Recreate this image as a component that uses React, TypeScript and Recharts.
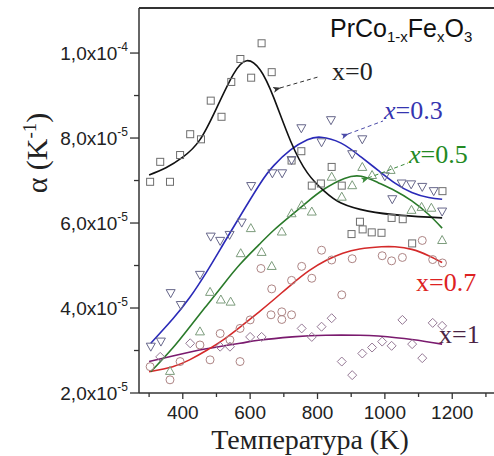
import React from 'react';
import { ComposedChart, Line, Scatter, XAxis, YAxis, ReferenceLine } from 'recharts';

const UNIT = 1e-5;

// [Temperature K, alpha in 1e-5 K^-1]
const x0Points: [number, number][] = [
  [303, 6.97], [333, 7.44], [362, 6.97], [392, 7.6], [422, 8.09], [454, 7.97], [483, 8.88],
  [515, 8.5], [544, 9.32], [571, 9.86], [603, 9.42], [634, 10.23], [664, 9.55], [723, 7.47],
  [752, 7.69], [783, 6.88], [810, 6.93], [842, 7.32], [872, 6.88], [901, 5.74], [926, 6.03],
  [934, 5.85], [961, 5.78], [990, 5.77], [1020, 6.12], [1053, 6.09], [1081, 5.52], [1171, 6.75],
];
const x0Curve: [number, number][] = [
  [300, 7.13], [350, 7.3], [400, 7.55], [450, 7.95], [500, 8.7], [550, 9.5], [590, 9.82],
  [630, 9.6], [670, 8.95], [720, 7.93], [770, 7.18], [820, 6.75], [870, 6.47], [950, 6.28],
  [1050, 6.18], [1170, 6.12],
];

const x03Points: [number, number][] = [
  [305, 3.09], [335, 3.21], [364, 4.35], [394, 4.07], [451, 4.78], [483, 5.68], [511, 5.58],
  [539, 5.72], [575, 6.01], [603, 6.87], [666, 7.17], [695, 7.17], [723, 7.48], [752, 8.23],
  [812, 7.9], [840, 8.42], [903, 7.62], [933, 7.97], [1000, 7.1], [1022, 6.56], [1050, 6.93],
  [1078, 6.91], [1111, 6.85], [1145, 6.75], [1170, 6.27],
];
const x03Curve: [number, number][] = [
  [305, 3.17], [370, 3.74], [420, 4.24], [470, 4.84], [520, 5.5], [570, 6.16], [630, 6.93],
  [670, 7.35], [720, 7.72], [770, 7.96], [810, 8.02], [870, 7.88], [930, 7.55], [980, 7.24],
  [1030, 6.94], [1080, 6.72], [1130, 6.6], [1170, 6.56],
];

const x05Points: [number, number][] = [
  [362, 2.52], [451, 3.45], [481, 4.38], [513, 4.2], [542, 4.15], [572, 5.29], [602, 5.88],
  [634, 5.32], [664, 4.99], [694, 5.8], [723, 6.23], [753, 6.42], [783, 6.27], [842, 7.09],
  [872, 6.62], [903, 6.89], [933, 7.32], [962, 7.13], [1017, 7.25], [1079, 6.31], [1109, 6.38],
  [1138, 6.36], [1170, 5.6],
];
const x05Curve: [number, number][] = [
  [305, 2.5], [370, 3.06], [420, 3.55], [470, 4.05], [520, 4.55], [570, 5.03], [625, 5.48],
  [670, 5.83], [720, 6.17], [770, 6.5], [820, 6.8], [880, 7.05], [930, 7.1], [980, 6.95],
  [1030, 6.76], [1080, 6.52], [1130, 6.2], [1170, 5.88],
];

const x07Points: [number, number][] = [
  [303, 2.62], [362, 2.31], [392, 2.74], [451, 3.13], [481, 2.78], [511, 3.4], [540, 3.25],
  [570, 2.74], [570, 3.52], [600, 3.72], [632, 4.93], [662, 3.84], [664, 4.45], [694, 3.91],
  [694, 3.73], [723, 4.65], [723, 3.84], [753, 4.98], [783, 4.7], [812, 5.36], [842, 5.13],
  [872, 4.31], [903, 5.16], [992, 5.23], [1020, 5.11], [1052, 5.19], [1111, 5.59], [1142, 5.14],
  [1171, 5.06],
];
const x07Curve: [number, number][] = [
  [300, 2.5], [370, 2.62], [420, 2.78], [470, 3.0], [520, 3.25], [570, 3.55], [625, 3.9],
  [675, 4.23], [725, 4.57], [775, 4.88], [825, 5.12], [875, 5.29], [925, 5.39], [990, 5.44],
  [1030, 5.44], [1080, 5.38], [1130, 5.23], [1170, 5.07],
];

const x1Points: [number, number][] = [
  [333, 2.85], [422, 3.17], [511, 3.09], [540, 3.09], [600, 3.32], [634, 3.32], [753, 3.52],
  [783, 3.32], [812, 3.56], [842, 3.76], [872, 2.74], [903, 2.42], [933, 2.93], [962, 3.07],
  [992, 3.21], [1020, 3.11], [1052, 3.72], [1081, 3.15], [1111, 2.82], [1142, 3.65], [1170, 3.58],
];
const x1Curve: [number, number][] = [
  [300, 2.74], [370, 2.87], [470, 3.04], [570, 3.17], [625, 3.24], [725, 3.32], [825, 3.36],
  [925, 3.36], [980, 3.34], [1080, 3.26], [1170, 3.15],
];

const xTicks = [300, 400, 500, 600, 700, 800, 900, 1000, 1100, 1200, 1300];
const xTickLabels = ['', '400', '', '600', '', '800', '', '1000', '', '1200', ''];
const yTicks = [2e-5, 3e-5, 4e-5, 5e-5, 6e-5, 7e-5, 8e-5, 9e-5, 1e-4];
const yMajorTicks = [2e-5, 4e-5, 6e-5, 8e-5, 1e-4];
const yMajorLabels = ['2,0x10', '4,0x10', '6,0x10', '8,0x10', '1,0x10'];
const yMajorExps = ['-5', '-5', '-5', '-5', '-4'];

const toData = (arr: [number, number][]) => arr.map(([x, a]) => ({ x, y: a * UNIT }));

const SANS = 'Liberation Sans, Arial, sans-serif';
const SERIF = 'Liberation Serif, Times New Roman, serif';
const AXIS = '#333';

const Square = (p: any) => (
  <rect x={p.cx - 3.5} y={p.cy - 3.5} width={7} height={7} fill="none" stroke="#6e6e6e" strokeWidth={1} />
);
const TriDown = (p: any) => (
  <polygon points={`${p.cx - 4.5},${p.cy - 3.5} ${p.cx + 4.5},${p.cy - 3.5} ${p.cx},${p.cy + 4.5}`} fill="none" stroke="#66668a" strokeWidth={1} />
);
const TriUp = (p: any) => (
  <polygon points={`${p.cx - 4.5},${p.cy + 3.5} ${p.cx + 4.5},${p.cy + 3.5} ${p.cx},${p.cy - 4.5}`} fill="none" stroke="#7c9c7c" strokeWidth={1} />
);
const Circ = (p: any) => (
  <circle cx={p.cx} cy={p.cy} r={4} fill="none" stroke="#ad8484" strokeWidth={1} />
);
const Diam = (p: any) => (
  <polygon points={`${p.cx},${p.cy - 4.5} ${p.cx + 4.5},${p.cy} ${p.cx},${p.cy + 4.5} ${p.cx - 4.5},${p.cy}`} fill="none" stroke="#957995" strokeWidth={1} />
);

const XTick = (props: any) => {
  const { x, y, payload } = props;
  const i = xTicks.indexOf(payload.value);
  const label = i >= 0 ? xTickLabels[i] : '';
  const major = label !== '';
  return (
    <g>
      <line x1={x} x2={x} y1={y} y2={y + (major ? 6 : 4)} stroke={AXIS} strokeWidth={1.3} />
      {major && (
        <text x={x} y={y + 26} textAnchor="middle" fontFamily={SANS} fontSize={19} fill="#222">
          {label}
        </text>
      )}
    </g>
  );
};

const YTick = (props: any) => {
  const { x, y, payload } = props;
  const i = yMajorTicks.findIndex((t) => Math.abs(t - payload.value) < 1e-12);
  const major = i >= 0;
  return (
    <g>
      <line x1={x - (major ? 9 : 5)} x2={x} y1={y} y2={y} stroke={AXIS} strokeWidth={1.3} />
      {major && (
        <text x={x - 11} y={y + 7} textAnchor="end" fontFamily={SANS} fontSize={19} fill="#222">
          <tspan>{yMajorLabels[i]}</tspan>
          <tspan dy={-9} fontSize={12}>{yMajorExps[i]}</tspan>
        </text>
      )}
    </g>
  );
};

export default function App() {
  const W = 494;
  const H = 456;
  const lineProps = { dataKey: 'y', type: 'natural' as const, strokeWidth: 1.6, dot: false, activeDot: false, isAnimationActive: false };
  return (
    <div style={{ position: 'fixed', left: 0, top: 0, width: W, height: H, background: '#fff', overflow: 'hidden' }}>
      <ComposedChart width={W} height={H} margin={{ top: 8, right: 0, bottom: 0, left: 0 }}>
        <XAxis
          type="number"
          dataKey="x"
          domain={[270, 1324]}
          ticks={xTicks}
          interval={0}
          allowDataOverflow
          height={63}
          tickSize={0}
          tickMargin={0}
          tickLine={false}
          tick={<XTick />}
          axisLine={{ stroke: AXIS, strokeWidth: 1.5 }}
        />
        <YAxis
          type="number"
          dataKey="y"
          domain={[2e-5, 1.106e-4]}
          ticks={yTicks}
          interval={0}
          allowDataOverflow
          width={139}
          tickSize={0}
          tickMargin={0}
          tickLine={false}
          tick={<YTick />}
          axisLine={{ stroke: AXIS, strokeWidth: 1.5 }}
        />
        <ReferenceLine y={1.106e-4} stroke={AXIS} strokeWidth={2} />
        <Scatter data={toData(x0Points)} dataKey="y" shape={Square} isAnimationActive={false} />
        <Scatter data={toData(x03Points)} dataKey="y" shape={TriDown} isAnimationActive={false} />
        <Scatter data={toData(x05Points)} dataKey="y" shape={TriUp} isAnimationActive={false} />
        <Scatter data={toData(x07Points)} dataKey="y" shape={Circ} isAnimationActive={false} />
        <Scatter data={toData(x1Points)} dataKey="y" shape={Diam} isAnimationActive={false} />
        <Line data={toData(x1Curve)} stroke="#7a1a6e" {...lineProps} />
        <Line data={toData(x07Curve)} stroke="#d42a2a" {...lineProps} />
        <Line data={toData(x05Curve)} stroke="#2a7a2a" {...lineProps} />
        <Line data={toData(x03Curve)} stroke="#2a2ab8" {...lineProps} />
        <Line data={toData(x0Curve)} stroke="#111" {...lineProps} />
      </ComposedChart>
      <svg width={W} height={H} style={{ position: 'absolute', left: 0, top: 0, pointerEvents: 'none' }}>
        <defs>
          <marker id="ah0" markerWidth="8" markerHeight="6" refX="1" refY="3" orient="auto-start-reverse">
            <path d="M0,3 L8,0 L6,3 L8,6 Z" fill="#333" />
          </marker>
          <marker id="ah3" markerWidth="8" markerHeight="6" refX="1" refY="3" orient="auto-start-reverse">
            <path d="M0,3 L8,0 L6,3 L8,6 Z" fill="#4a4aa8" />
          </marker>
          <marker id="ah5" markerWidth="8" markerHeight="6" refX="1" refY="3" orient="auto-start-reverse">
            <path d="M0,3 L8,0 L6,3 L8,6 Z" fill="#3a8a3a" />
          </marker>
        </defs>
        <text x={330} y={37} fontFamily={SANS} fontSize={25} fill="#111">
          PrCo<tspan fontSize={15} dy={5}>1-x</tspan>
          <tspan dy={-5}>Fe</tspan>
          <tspan fontSize={15} dy={5}>x</tspan>
          <tspan dy={-5}>O</tspan>
          <tspan fontSize={15} dy={5}>3</tspan>
        </text>
        <line x1={280} y1={88} x2={318} y2={77} stroke="#333" strokeWidth={1} strokeDasharray="4 3" markerStart="url(#ah0)" />
        <line x1={348} y1={134} x2={383} y2={121} stroke="#4a4aa8" strokeWidth={1} strokeDasharray="4 3" markerStart="url(#ah3)" />
        <line x1={368} y1={178} x2={408} y2={163} stroke="#3a8a3a" strokeWidth={1} strokeDasharray="4 3" markerStart="url(#ah5)" />
        <text x={332} y={80} fontFamily={SERIF} fontSize={26} fill="#222">x=0</text>
        <text x={384} y={119} fontFamily={SERIF} fontSize={26} fill="#3535b0"><tspan fontStyle="italic">x</tspan>=0.3</text>
        <text x={409} y={163} fontFamily={SERIF} fontSize={26} fill="#238a23"><tspan fontStyle="italic">x</tspan>=0.5</text>
        <text x={416} y={291} fontFamily={SERIF} fontSize={26} fill="#dd2222">x=0.7</text>
        <text x={439} y={343} fontFamily={SERIF} fontSize={26} fill="#4a2444">x=1</text>
        <text transform="translate(47,153) rotate(-90)" textAnchor="middle" fontFamily={SERIF} fontSize={30} fill="#222">
          α (K<tspan dy={-11} fontSize={19}>-1</tspan><tspan dy={11}>)</tspan>
        </text>
        <text x={310} y={449} textAnchor="middle" fontFamily={SERIF} fontSize={28} fill="#222">Температура (K)</text>
      </svg>
    </div>
  );
}
